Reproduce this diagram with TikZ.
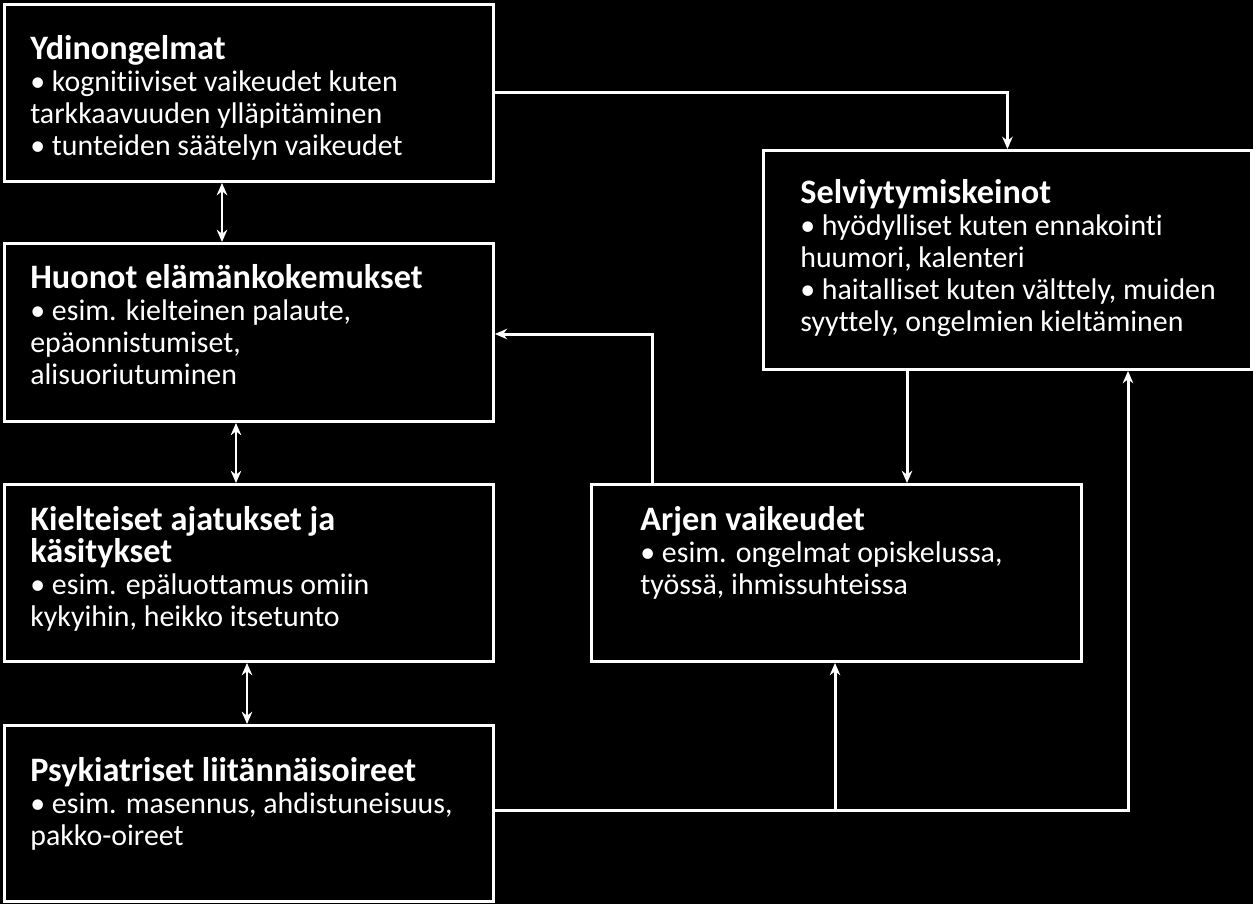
\documentclass[tikz,border=0pt]{standalone}
\usepackage{fontspec}
\setmainfont[Ligatures={NoCommon}]{Carlito}
\usetikzlibrary{positioning,arrows.meta}
\newcommand{\boxtitle}[1]{{\fontsize{19.5}{18}\selectfont\bfseries #1}}

\begin{document}
\begin{tikzpicture}[x=0.02cm,y=-0.02cm,
    box/.style={draw=white, line width=1.7pt, anchor=north west, inner sep=0pt},
    txt/.style={anchor=north west, inner sep=0pt, align=left, text=white,
                font=\fontsize{17}{18.2}\selectfont},
    link/.style={draw=white, line width=1.7pt, -{Stealth[length=7pt,width=6pt]}},
    both/.style={link, {Stealth[length=7pt,width=6pt]}-{Stealth[length=7pt,width=6pt]}}]
    \fill[black] (0,0) rectangle (1253,904);
    % boxes
    \node[box, minimum width=9.78cm, minimum height=3.54cm] (A) at (3,3) {};
    \node[box, minimum width=9.78cm, minimum height=3.56cm] (B) at (3,242) {};
    \node[box, minimum width=9.78cm, minimum height=3.54cm] (C) at (3,483) {};
    \node[box, minimum width=9.78cm, minimum height=3.52cm] (D) at (3,724) {};
    \node[box, minimum width=9.76cm, minimum height=4.38cm] (E) at (762,149) {};
    \node[box, minimum width=9.8cm, minimum height=3.54cm] (F) at (590,483) {};
    % texts
    \node[txt] (At) at (30,35) {\boxtitle{Ydinongelmat}\\
        • kognitiiviset vaikeudet kuten\\ tarkkaavuuden ylläpitäminen\\
        • tunteiden säätelyn vaikeudet};
    \node[txt] (Bt) at (30,264) {\boxtitle{Huonot elämänkokemukset}\\
        • esim. kielteinen palaute,\\ epäonnistumiset,\\ alisuoriutuminen};
    \node[txt] (Ct) at (30,506) {\boxtitle{Kielteiset ajatukset ja}\\\boxtitle{käsitykset}\\
        • esim. epäluottamus omiin\\ kykyihin, heikko itsetunto};
    \node[txt] (Dt) at (30,757) {\boxtitle{Psykiatriset liitännäisoireet}\\
        • esim. masennus, ahdistuneisuus,\\ pakko-oireet};
    \node[txt] (Et) at (800,179) {\boxtitle{Selviytymiskeinot}\\
        • hyödylliset kuten ennakointi\\ huumori, kalenteri\\
        • haitalliset kuten välttely, muiden\\ syyttely, ongelmien kieltäminen};
    \node[txt] (Ft) at (640,506) {\boxtitle{Arjen vaikeudet}\\
        • esim. ongelmat opiskelussa,\\ työssä, ihmissuhteissa};
    % connectors
    \draw[link] (A.east |- 0,92) -| (E.north);
    \draw[both] (A.south -| 222,0) -- (B.north -| 222,0);
    \draw[both] (B.south -| 236,0) -- (C.north -| 236,0);
    \draw[both] (C.south -| 247,0) -- (D.north -| 247,0);
    \draw[link] (E.south -| 907,0) -- (F.north -| 907,0);
    \draw[link] (F.north -| 652,0) |- (B.east |- 0,334);
    \coordinate (J) at (835,810);
    \draw[link] (D.east |- J) -- (J) -- (F.south -| J);
    \draw[link] (J) -| (E.south -| 1128,0);
\end{tikzpicture}
\end{document}
